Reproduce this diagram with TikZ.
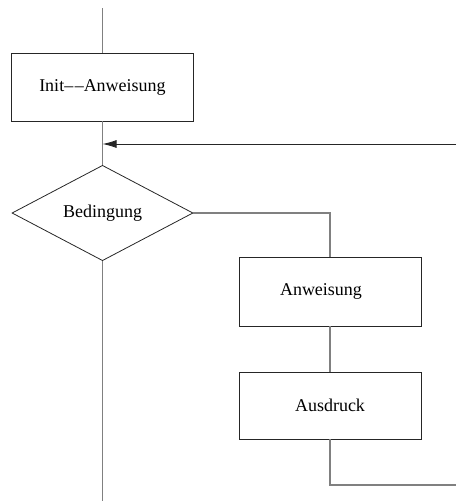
\documentclass[tikz,border=0pt]{standalone}
\usepackage{fontspec}
\setmainfont{Liberation Serif}
\usepackage{tikz}
\usetikzlibrary{arrows.meta}
\usetikzlibrary{shapes.geometric}

\begin{document}
\begin{tikzpicture}[x=1pt, y=-1pt, font=\fontsize{18}{21}\selectfont,
    box/.style={draw=black!85, line width=0.8pt, inner sep=0pt,
      minimum width=182pt, minimum height=68pt},
    cond/.style={draw=black!85, line width=0.8pt, diamond, inner sep=0pt,
      minimum width=181pt, minimum height=90pt},
    flow/.style={draw=black!50, line width=1.4pt},
    back/.style={draw=black!85, line width=0.9pt,
      -{Latex[length=14pt, width=8pt]}}]
    \useasboundingbox (0,0) rectangle (456,501);

    % Knoten
    \node[box] (init) at (102.5,87) {Init\textendash\kern1.5pt\textendash Anweisung};
    \node[cond] (cond) at (102.5,213) {Bedingung};
    \node[box, minimum height=69pt] (body) at (330,291.5) {\hspace*{-18pt}Anweisung};
    \node[box, minimum height=67pt] (expr) at (330,405.5) {Ausdruck};

    % freie Enden
    \coordinate (start) at (102.5,8);
    \coordinate (merge) at (102.5,144);
    \coordinate (loopin) at (456,144);
    \coordinate (loopout) at (456,485);
    \coordinate (exit) at (102.5,501);

    % Verbindungen
    \draw[flow] (start) -- (init.north);
    \draw[flow] (init.south) -- (cond.north);
    \draw[flow] (cond.east) -| (body.north);
    \draw[flow] (body.south) -- (expr.north);
    \draw[flow] (expr.south) |- (loopout);
    \draw[flow] (cond.south) -- (exit);
    \draw[back] (loopin) -- (merge);
  \end{tikzpicture}
\end{document}
